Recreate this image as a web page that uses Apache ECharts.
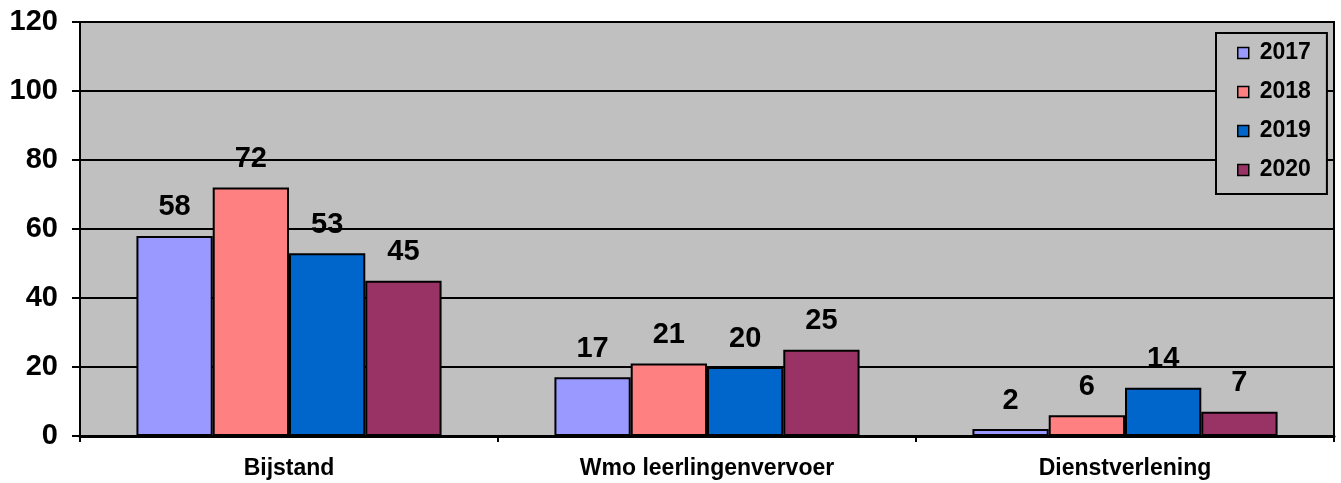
<!DOCTYPE html>
<html>
<head>
<meta charset="utf-8">
<script src="https://cdn.jsdelivr.net/npm/echarts@6/dist/echarts.min.js"></script>
<style>
  html, body { margin: 0; padding: 0; background: #ffffff; }
  #chart { width: 1341px; height: 483px; }
</style>
</head>
<body>
<div id="chart"></div>
<script>
// Categories and yearly counts
const categories = ['Bijstand', 'Wmo leerlingenvervoer', 'Dienstverlening'];
const years = ['2017', '2018', '2019', '2020'];
const values2017 = [58, 17, 2];
const values2018 = [72, 21, 6];
const values2019 = [53, 20, 14];
const values2020 = [45, 25, 7];
const yearColors = ['#9999FF', '#FF8080', '#0066CC', '#993366'];

const FONT = '"Liberation Sans", Arial, sans-serif';
const seriesValues = [values2017, values2018, values2019, values2020];

const chart = echarts.init(document.getElementById('chart'), null, { renderer: 'canvas' });

const series = years.map((y, i) => ({
  name: y,
  type: 'bar',
  data: seriesValues[i],
  barGap: '0%',
  barCategoryGap: '27%',
  itemStyle: { color: yearColors[i], borderColor: '#000', borderWidth: 2 },
  label: {
    show: true,
    position: 'top',
    distance: 14,
    color: '#000',
    fontFamily: FONT,
    fontWeight: 'bold',
    fontSize: 29
  }
}));

chart.setOption({
  animation: false,
  backgroundColor: '#ffffff',
  grid: {
    left: 80, right: 7, top: 22, bottom: 47,
    show: true,
    backgroundColor: '#C0C0C0',
    borderColor: '#000',
    borderWidth: 2
  },
  legend: {
    orient: 'vertical',
    left: 1216,
    top: 33,
    padding: [8, 16, 12, 21],
    backgroundColor: '#C0C0C0',
    borderColor: '#000',
    borderWidth: 2,
    itemWidth: 11,
    itemHeight: 11,
    itemGap: 15,
    icon: 'rect',
    itemStyle: { borderColor: '#000', borderWidth: 1.5 },
    textStyle: {
      color: '#000',
      fontFamily: FONT,
      fontWeight: 'bold',
      fontSize: 23,
      lineHeight: 24,
      padding: [0, 0, 0, 6]
    },
    data: years
  },
  xAxis: {
    type: 'category',
    data: categories,
    axisLine: { lineStyle: { color: '#000', width: 3 } },
    axisTick: { show: true, alignWithLabel: false, length: 6, lineStyle: { color: '#000', width: 2 } },
    axisLabel: {
      color: '#000',
      fontFamily: FONT,
      fontWeight: 'bold',
      fontSize: 23,
      margin: 21
    }
  },
  yAxis: {
    type: 'value',
    min: 0,
    max: 120,
    interval: 20,
    axisLine: { show: true, lineStyle: { color: '#000', width: 2 } },
    axisTick: { show: true, length: 8, lineStyle: { color: '#000', width: 2 } },
    splitLine: { show: true, lineStyle: { color: '#000', width: 2 } },
    axisLabel: {
      color: '#000',
      fontFamily: FONT,
      fontWeight: 'bold',
      fontSize: 29,
      margin: 22
    }
  },
  series: series
});
</script>
</body>
</html>
